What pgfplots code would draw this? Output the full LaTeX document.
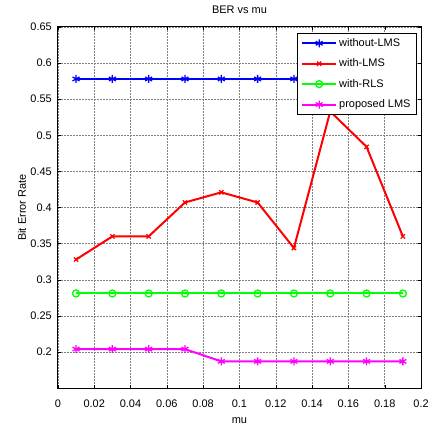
\documentclass[border=0pt]{standalone}
\usepackage{fontspec}
\setmainfont{Liberation Sans}
\usepackage{pgfplots}
\pgfplotsset{compat=1.18}
\definecolor{mblue}{rgb}{0,0,1}
\definecolor{mred}{rgb}{1,0,0}
\definecolor{mgreen}{rgb}{0,1,0}
\definecolor{mmag}{rgb}{1,0,1}
\begin{document}
\begin{tikzpicture}
\begin{axis}[
  name=ax,
  scale only axis,
  width=364pt, height=362pt,
  xmin=0, xmax=0.2, ymin=0.15, ymax=0.65,
  xtick={0,0.02,...,0.2},
  ytick={0.2,0.25,...,0.65},
  tick align=inside,
  major tick length=3pt,
  tick style={black, thin},
  axis line style={black, line width=1pt},
  grid=major,
  grid style={black!50, line width=0.5pt, densely dotted},
  /pgf/number format/assume math mode=true,
  xticklabel style={/pgf/number format/fixed, /pgf/number format/precision=2, yshift=-8pt},
  yticklabel style={/pgf/number format/fixed, /pgf/number format/precision=2, xshift=-2.5pt},
  ticklabel style={font=\fontsize{11}{13}\selectfont},
  title={BER vs mu},
  title style={font=\fontsize{11}{13}\selectfont, at={(axis description cs:0.5,1.030)}, anchor=center},
  xlabel={mu},
  ylabel={Bit Error Rate},
  label style={font=\fontsize{11}{13}\selectfont},
  xlabel style={at={(axis description cs:0.5,-0.0912)}, anchor=center},
  ylabel style={at={(axis description cs:-0.0989,0.5)}, anchor=center},
  legend style={font=\fontsize{11}{13}\selectfont, draw=black, line width=1pt, at={(0.989,0.983)}, anchor=north east, inner xsep=4pt, inner ysep=3pt, row sep=7pt, cells={anchor=west}},
  legend cell align=left,
  legend image code/.code={\draw[#1, line width=2pt] (0cm,0cm) -- (1.2cm,0cm); \draw[#1, mark repeat=1] plot coordinates {(0.6cm,0cm)};},
]
\addplot[mblue, line width=2pt, mark=asterisk, mark size=4pt, mark options={line width=1.3pt}] coordinates {
(0.01,0.578) (0.03,0.578) (0.05,0.578) (0.07,0.578) (0.09,0.578) (0.11,0.578) (0.13,0.578) (0.15,0.578) (0.17,0.578) (0.19,0.578)};
\addlegendentry{without-LMS}
\addplot[mred, line width=2pt, mark=x, mark size=3pt, mark options={line width=1.3pt}] coordinates {
(0.01,0.328) (0.03,0.360) (0.05,0.360) (0.07,0.407) (0.09,0.421) (0.11,0.407) (0.13,0.344) (0.15,0.533) (0.17,0.484) (0.19,0.360)};
\addlegendentry{with-LMS}
\addplot[mgreen, line width=2pt, mark=o, mark size=3.5pt, mark options={line width=1.3pt, fill=none}] coordinates {
(0.01,0.281) (0.03,0.281) (0.05,0.281) (0.07,0.281) (0.09,0.281) (0.11,0.281) (0.13,0.281) (0.15,0.281) (0.17,0.281) (0.19,0.281)};
\addlegendentry{with-RLS}
\addplot[mmag, line width=2pt, mark=asterisk, mark size=4pt, mark options={line width=1.3pt}] coordinates {
(0.01,0.204) (0.03,0.204) (0.05,0.204) (0.07,0.204) (0.09,0.187) (0.11,0.187) (0.13,0.187) (0.15,0.187) (0.17,0.187) (0.19,0.187)};
\addlegendentry{proposed LMS}
\end{axis}
\path ([xshift=-58pt,yshift=-39pt]ax.south west) rectangle ([xshift=10pt,yshift=27pt]ax.north east);
\end{tikzpicture}
\end{document}
